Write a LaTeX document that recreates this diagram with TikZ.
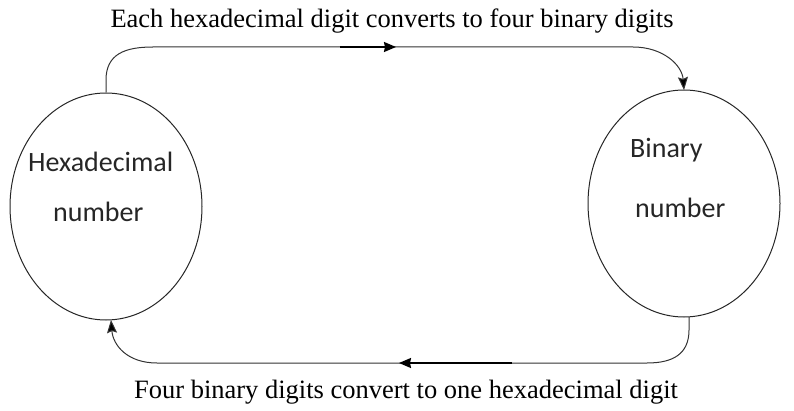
\documentclass[tikz,border=0pt]{standalone}
\usepackage{fontspec}
\setmainfont{Liberation Serif}
\newfontfamily\calibri{Carlito}
\usetikzlibrary{shapes.geometric,arrows.meta}
\begin{document}
\begin{tikzpicture}[x=1pt,y=-1pt,
  bubble/.style={draw=black!85,line width=1pt,ellipse,minimum width=192pt,minimum height=227pt,inner sep=0pt},
  conn/.style={draw=black!80,line width=1pt},
  tipped/.style={conn,-{Stealth[length=13pt,width=10pt,inset=2pt,fill=black]}},
  midarrow/.style={draw=black,line width=1.6pt,-{Stealth[length=12pt,width=10pt,inset=1pt]}},
  caption/.style={font=\fontsize{26.5}{28}\selectfont,inner sep=0pt,anchor=base},
  inlabel/.style={font=\calibri\fontsize{28}{30}\selectfont,inner sep=0pt,anchor=base west,text=black!85}
]
\useasboundingbox (0,0) rectangle (794,411);
\node[bubble] (hex) at (106,206.5) {};
\node[bubble] (bin) at (684,203.5) {};

\node[inlabel] (hexA) at (28,172) {Hexadecimal};
\node[inlabel] (hexB) at (53,222) {number};
\node[inlabel] (binA) at (630,158) {Binary};
\node[inlabel] (binB) at (635,218) {number};

\node[caption] (topcap) at (392,28) {Each hexadecimal digit converts to four binary digits};
\node[caption] (botcap) at (406,398) {Four binary digits convert to one hexadecimal digit};

% top connector
\coordinate (t1) at (106,80);
\coordinate (t2) at (153,47);
\coordinate (t3) at (633,47);
\coordinate (t4) at (684,90);
\draw[tipped] (hex.north) -- (t1) .. controls +(0,-26) and +(-28,0) .. (t2) -- (t3) .. controls +(30,0) and +(-2,-25) .. (t4);
\coordinate (ma) at (340,47);
\coordinate (mb) at (396,47);
\draw[midarrow] (ma) -- (mb);

% bottom connector
\coordinate (b0) at (689,317);
\coordinate (b1) at (689,330);
\coordinate (b2) at (647,363);
\coordinate (b3) at (157,363);
\coordinate (b4) at (111,320);
\draw[tipped] (b0) -- (b1) .. controls +(0,24) and +(26,0) .. (b2) -- (b3) .. controls +(-30,0) and +(2,25) .. (b4);
\coordinate (mc) at (512,363);
\coordinate (md) at (399,363);
\draw[midarrow] (mc) -- (md);
\end{tikzpicture}
\end{document}
